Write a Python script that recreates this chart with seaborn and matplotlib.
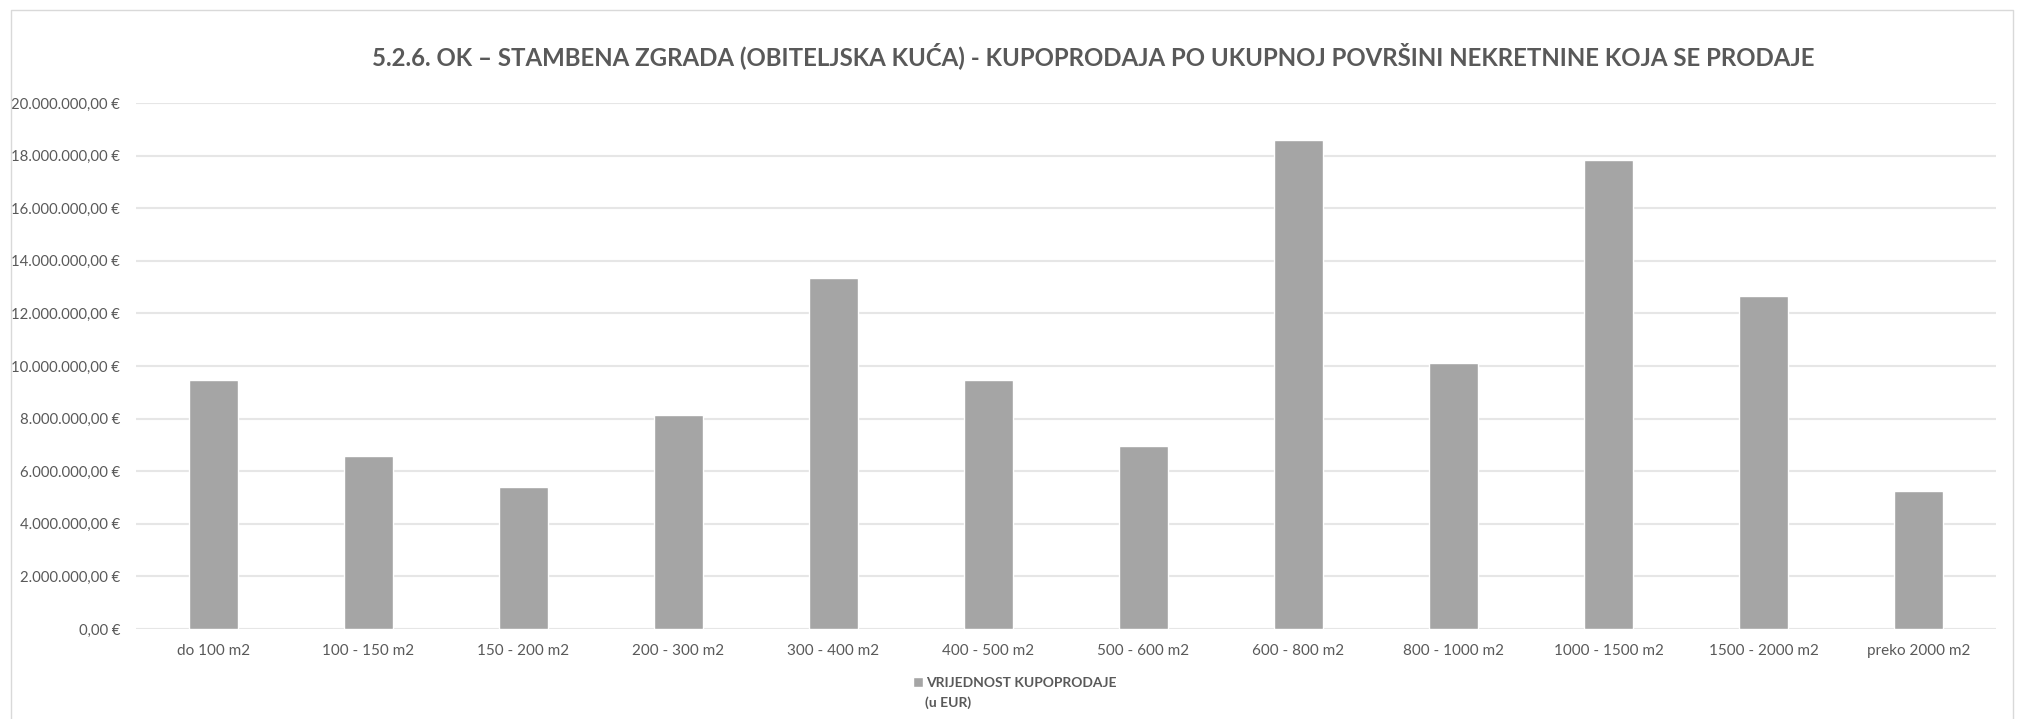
import matplotlib
matplotlib.use("Agg")
import matplotlib.pyplot as plt
import seaborn as sns
import pandas as pd
from matplotlib.ticker import FuncFormatter, FixedLocator
from matplotlib.lines import Line2D

categories = ["do 100 m2", "100 - 150 m2", "150 - 200 m2", "200 - 300 m2", "300 - 400 m2",
              "400 - 500 m2", "500 - 600 m2", "600 - 800 m2", "800 - 1000 m2",
              "1000 - 1500 m2", "1500 - 2000 m2", "preko 2000 m2"]
values = [9.45e6, 6.57e6, 5.39e6, 8.13e6, 13.35e6, 9.48e6, 6.96e6, 18.59e6,
          10.12e6, 17.82e6, 12.66e6, 5.23e6]
y_ticks = [0, 2e6, 4e6, 6e6, 8e6, 10e6, 12e6, 14e6, 16e6, 18e6, 20e6]
series_label = "VRIJEDNOST KUPOPRODAJE"
unit_label = "(u EUR)"
title = "5.2.6. OK – STAMBENA ZGRADA (OBITELJSKA KUĆA) - KUPOPRODAJA PO UKUPNOJ POVRŠINI NEKRETNINE KOJA SE PRODAJE"

sns.set_theme(style="white")
plt.rcParams['font.family'] = ['Lato', 'DejaVu Sans']

TXT = "#595959"
W, H = 2026, 719
fig = plt.figure(figsize=(W / 100, H / 100), dpi=100)
fig.patch.set_facecolor("white")
ax = fig.add_axes([136 / W, 1 - 629 / H, (1996 - 136) / W, (629 - 103) / H])

df = pd.DataFrame({"cat": categories, "val": values})
sns.barplot(data=df, x="cat", y="val", color="#A5A5A5", saturation=1, width=0.31,
            ax=ax, zorder=3)

ax.set_xlim(-0.5, 11.5)
ax.set_ylim(0, 20e6)
ax.yaxis.set_major_locator(FixedLocator(y_ticks))


def eur(v, pos):
    s = f"{v:,.2f}"
    s = s.replace(",", "X").replace(".", ",").replace("X", ".")
    return s + " €"


ax.yaxis.set_major_formatter(FuncFormatter(eur))
ax.yaxis.grid(True, color="#E6E6E6", lw=1.5, zorder=0)
ax.xaxis.grid(False)
for s in ax.spines.values():
    s.set_visible(False)
ax.set_xlabel("")
ax.set_ylabel("")
ax.tick_params(axis="y", length=0, pad=11.5, labelsize=10.7, labelcolor=TXT)
ax.tick_params(axis="x", length=0, pad=10.5, labelsize=11, labelcolor=TXT)

fig.text(1093 / W, 1 - 56 / H, title, ha="center", va="center", fontsize=17.3,
         fontweight="bold", color=TXT)

# chart border
fig.add_artist(Line2D([11 / W, 11 / W, 2013 / W, 2013 / W], [0, 1 - 10 / H, 1 - 10 / H, 0],
                      transform=fig.transFigure, color="#D9D9D9", lw=1))

leg = fig.legend(handles=[ax.containers[0]], labels=[series_label], loc="center left",
                 bbox_to_anchor=(906 / W, 1 - 683 / H), frameon=False, borderpad=0,
                 handlelength=0.72, handleheight=0.72, handletextpad=0.25,
                 prop={"size": 10, "weight": "bold"})
for t in leg.get_texts():
    t.set_color(TXT)
fig.text(925 / W, 1 - 703 / H, unit_label, ha="left", va="center", fontsize=10,
         fontweight="bold", color=TXT)

fig.savefig("out.png", dpi=100, facecolor="white")
